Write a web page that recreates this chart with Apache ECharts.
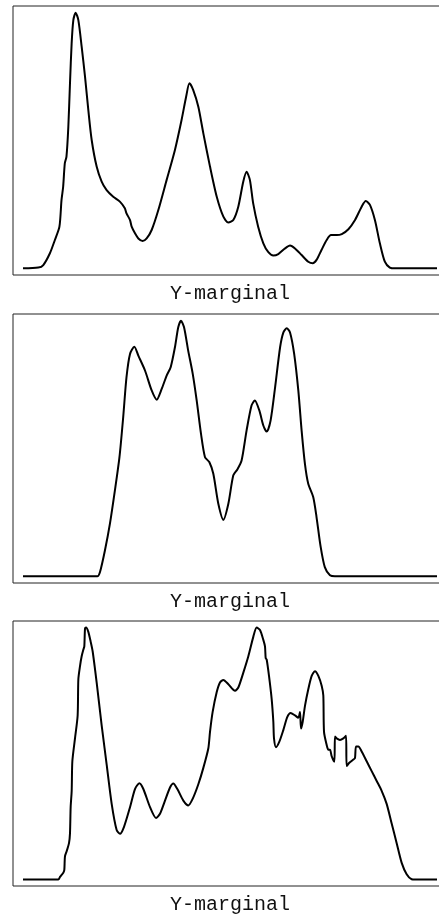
<!DOCTYPE html>
<html>
<head>
<meta charset="utf-8">
<script src="https://cdn.jsdelivr.net/npm/echarts@6/dist/echarts.min.js"></script>
<style>
html,body{margin:0;padding:0;background:#fff;overflow:hidden;}
#c{width:460px;height:916px;}
</style>
</head>
<body>
<div id="c"></div>
<script>
// Panel titles (x-axis names)
const axisNames = ["Y-marginal", "Y-marginal", "Y-marginal"];

// Panel 1 density curve: x positions and normalized density
const x1 = [0,3.7,4.9,6.5,7.7,8.8,9.3,9.7,10.1,10.5,10.95,11.35,11.75,12.16,12.72,13.37,14.17,14.98,15.78,16.59,17.79,19.0,20.2,21.8,23.4,24.6,25.0,25.85,26.25,27.05,27.86,28.9,29.87,31.08,32.69,34.7,36.7,38.3,39.4,40.2,41.1,42.35,43.56,45.17,46.8,48.4,49.6,50.8,52.0,53.2,54.0,54.8,55.6,56.8,58.05,59.26,60.47,61.67,63.3,64.5,65.7,67.3,68.9,70.0,70.9,72.1,73.35,74.4,75.8,77.0,78.6,80.2,81.8,82.8,83.8,85.0,86.2,87.4,88.6,89.9,100];
const y1 = [0,0.003,0.013,0.059,0.111,0.163,0.267,0.319,0.411,0.437,0.554,0.724,0.880,0.971,1.0,0.971,0.867,0.750,0.619,0.502,0.398,0.339,0.306,0.280,0.261,0.235,0.215,0.189,0.163,0.137,0.117,0.107,0.117,0.150,0.228,0.346,0.463,0.580,0.671,0.724,0.698,0.632,0.528,0.398,0.280,0.202,0.179,0.189,0.241,0.339,0.378,0.346,0.254,0.163,0.098,0.063,0.050,0.056,0.078,0.089,0.078,0.052,0.026,0.020,0.033,0.072,0.111,0.130,0.130,0.134,0.153,0.189,0.241,0.263,0.248,0.189,0.098,0.026,0.003,0,0];

// Panel 2
const x2 = [0,17.95,18.6,19.8,21.0,22.2,23.3,24.2,25.0,25.85,26.9,27.86,29.47,31.08,32.3,33.5,34.7,35.67,36.7,37.5,38.16,38.9,39.9,41.0,41.95,43.0,43.96,45.0,45.97,47.18,48.4,49.6,50.8,51.77,52.8,54.0,55.2,56.0,57.1,58.05,58.86,59.8,60.9,62.1,62.9,63.7,64.5,65.5,66.5,67.3,68.1,68.9,70.1,70.9,71.9,72.9,74.15,75.36,100];
const y2 = [0,0,0.017,0.102,0.206,0.336,0.466,0.622,0.779,0.870,0.898,0.863,0.805,0.727,0.691,0.733,0.785,0.818,0.896,0.974,1.0,0.974,0.883,0.792,0.688,0.557,0.466,0.447,0.401,0.284,0.221,0.284,0.395,0.418,0.453,0.570,0.668,0.688,0.648,0.590,0.566,0.609,0.740,0.896,0.954,0.970,0.954,0.870,0.727,0.570,0.440,0.362,0.310,0.232,0.115,0.036,0.004,0,0];

// Panel 3
const x3 = [0,8.53,8.94,9.74,9.98,10.14,10.55,11.11,11.35,11.51,11.76,11.92,12.56,13.2,13.37,13.77,14.17,14.57,14.81,14.98,15.22,15.78,16.34,16.83,17.79,19.0,20.21,21.42,22.62,23.43,24.4,25.85,27.05,28.1,29.07,30.68,32.13,33.09,34.3,35.51,36.31,37.28,38.73,39.94,40.98,42.35,43.56,44.77,45.17,45.81,46.78,47.58,48.39,49.6,51.21,52.01,53.22,54.43,55.64,56.44,57.25,58.05,58.45,58.62,58.86,59.42,60.06,60.47,60.63,61.11,61.92,62.88,63.85,64.65,65.7,66.5,66.91,67.15,67.55,68.12,68.92,69.73,70.53,71.34,72.14,72.54,72.71,73.35,73.75,74.15,74.56,75.2,75.36,75.76,76.57,77.38,78.02,78.18,78.82,79.79,80.19,80.43,81.0,81.8,83.01,84.22,85.43,86.63,87.84,89.05,90.26,91.47,92.67,93.88,94.69,100];
const y3 = [0,0,0.010,0.027,0.038,0.092,0.112,0.144,0.183,0.287,0.352,0.469,0.560,0.651,0.795,0.847,0.886,0.912,0.925,0.996,1.0,0.983,0.944,0.905,0.782,0.612,0.456,0.300,0.196,0.181,0.209,0.287,0.359,0.382,0.359,0.287,0.244,0.261,0.313,0.365,0.381,0.359,0.313,0.294,0.320,0.378,0.443,0.521,0.586,0.665,0.743,0.782,0.792,0.775,0.749,0.762,0.821,0.886,0.964,1.0,0.990,0.951,0.925,0.879,0.873,0.808,0.717,0.625,0.560,0.525,0.547,0.593,0.645,0.661,0.651,0.642,0.665,0.599,0.625,0.690,0.756,0.808,0.827,0.808,0.769,0.730,0.586,0.534,0.515,0.515,0.489,0.467,0.567,0.560,0.554,0.560,0.570,0.450,0.463,0.476,0.482,0.528,0.528,0.508,0.469,0.430,0.391,0.352,0.300,0.222,0.144,0.066,0.021,0.001,0,0];

const xs = [x1, x2, x3];
const ys = [y1, y2, y3];
const tops = [6, 314, 621];
const H = 269;

const grids = [], xAxes = [], yAxes = [], series = [];
for (let i = 0; i < 3; i++) {
  grids.push({left: 13, right: 13, top: tops[i], height: H, show: true,
    borderColor: '#222', borderWidth: 1, backgroundColor: '#fff'});
  xAxes.push({type: 'value', gridIndex: i, min: -2.415, max: 102.415,
    axisLine: {show: false}, axisTick: {show: false}, axisLabel: {show: false}, splitLine: {show: false},
    name: axisNames[i], nameLocation: 'middle', nameGap: 9,
    nameTextStyle: {fontFamily: 'Liberation Mono', fontSize: 20, color: '#111', verticalAlign: 'top'}});
  yAxes.push({type: 'value', gridIndex: i, min: -0.026, max: 1.026,
    axisLine: {show: false}, axisTick: {show: false}, axisLabel: {show: false}, splitLine: {show: false}});
  series.push({type: 'line', xAxisIndex: i, yAxisIndex: i, showSymbol: false, smooth: 0.25,
    data: xs[i].map((x, k) => [x, ys[i][k]]),
    lineStyle: {color: '#000', width: 2}, clip: true});
}

const chart = echarts.init(document.getElementById('c'), null, {renderer: 'canvas'});
chart.setOption({animation: false, grid: grids, xAxis: xAxes, yAxis: yAxes, series: series});
</script>
</body>
</html>
